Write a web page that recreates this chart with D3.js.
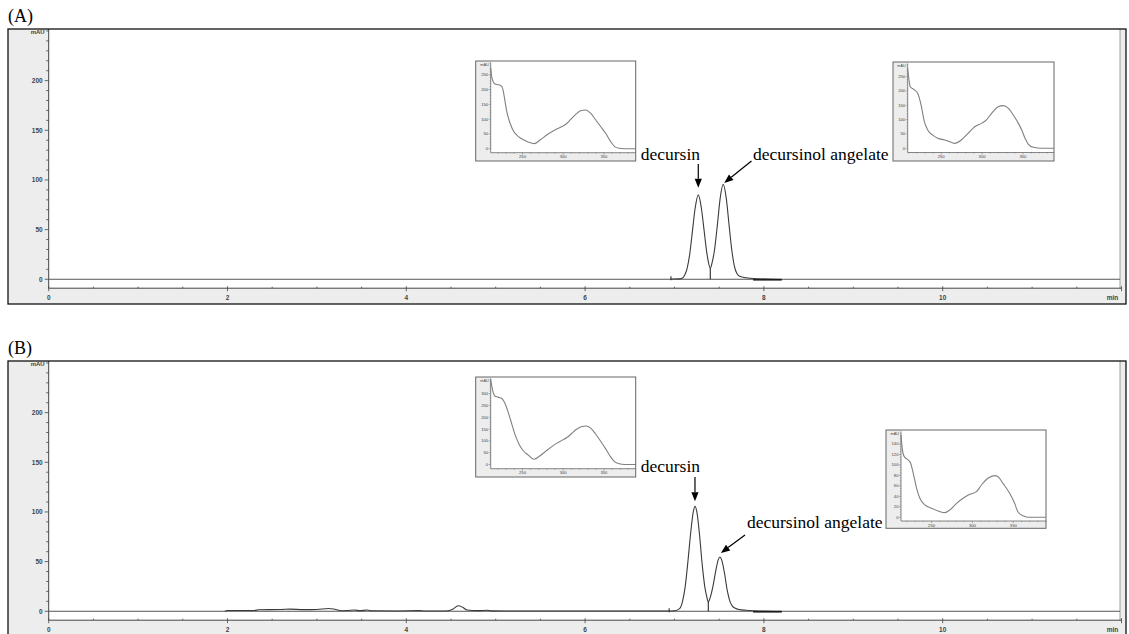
<!DOCTYPE html>
<html><head><meta charset="utf-8">
<script src="https://cdn.jsdelivr.net/npm/d3@7"></script>
<style>body{margin:0;background:#fff}svg{display:block}</style>
</head><body>
<svg id="c" width="1129" height="634"></svg>
<script>
// ---------------- data ----------------
const panelLabels = ["(A)", "(B)"];
const peakNames = ["decursin", "decursinol angelate"];
const timeTickLabels = [0, 2, 4, 6, 8, 10];
const signalTickLabels = [0, 50, 100, 150, 200];
const timeUnit = "min";
const signalUnit = "mAU";

// chromatogram traces [time (min), signal (mAU)]
const traceA = [[6.96,0.3],[7.00,0.3],[7.06,0.4],[7.09,1.2],[7.11,3.5],[7.14,10.5],[7.17,25],[7.20,48],[7.23,71],[7.266,85],[7.30,72],[7.33,50],[7.36,27.5],[7.38,17],[7.40,11],[7.42,16.5],[7.45,31],[7.48,55],[7.51,81],[7.545,95.5],[7.58,81],[7.61,55],[7.64,30],[7.67,13],[7.70,5.5],[7.73,3],[7.78,1.8],[7.85,1],[7.95,0.5],[8.05,0.2],[8.20,0]];
const traceB = [[1.97,0],[2.0,0.8],[2.3,0.8],[2.35,1.5],[2.6,1.8],[2.7,2.2],[2.85,1.6],[3.0,1.8],[3.13,2.8],[3.2,2],[3.28,0.5],[3.35,0.8],[3.42,1.2],[3.48,0.6],[3.56,1.2],[3.62,0.5],[3.9,0.3],[4.15,0.6],[4.2,0.3],[4.45,0.3],[4.52,2],[4.58,5.5],[4.63,4],[4.68,1.2],[4.8,0.6],[4.9,1],[4.95,0.4],[5.1,0.3],[6.94,0.3],[7.00,0.5],[7.06,3],[7.09,10],[7.12,25],[7.15,50],[7.18,78],[7.21,100],[7.229,105.7],[7.25,100],[7.28,77],[7.31,47],[7.34,24],[7.36,15],[7.378,9.5],[7.40,14],[7.43,25],[7.46,40],[7.49,52],[7.508,54.7],[7.53,51],[7.56,38],[7.59,21],[7.62,10],[7.65,5],[7.68,3],[7.72,1.8],[7.80,1],[7.90,0.5],[8.00,0.2],[8.20,0]];
const peaksA = [[7.266, 85], [7.545, 95.5]];
const peaksB = [[7.229, 105.7], [7.508, 54.7]];
const valleyA = [7.40, 11];
const valleyB = [7.378, 9.5];

// UV spectra insets [wavelength (nm), absorbance (mAU)]
const specA1 = [[211,273],[212.6,239],[216.3,219],[220.4,216],[224.6,211],[226.5,194],[228.6,160],[230.7,126],[234.8,86],[238.9,60],[245.1,41],[251.2,30],[257.4,22],[264.4,17],[271.9,30],[280.1,47],[290.4,64],[298.6,75],[304.8,86],[308.9,98],[315.1,115],[321.2,128],[327.4,131],[333.6,120],[339.8,98],[345.9,75],[352.1,52],[358.3,24],[363.2,7],[368.5,1.5],[374.7,0],[389,0]];
const specA2 = [[208.9,279],[212.2,215],[217.1,204],[221.2,192],[225.4,151],[229.4,93],[233.5,64],[239.7,46],[245.8,35],[254.1,29],[262.3,21],[266.4,17],[274.6,29],[282.8,52],[291,75],[299.3,87],[305.4,99],[311.6,122],[319.8,145],[325.9,149],[332,140],[338.2,116],[344.4,87],[348.5,64],[352.6,35],[356.7,14],[362.8,3.4],[373.2,0],[388,0]];
const specB1 = [[211,360],[213,320],[216,290],[220,285],[225,278],[229,255],[233,215],[237,170],[241,125],[246,85],[251,58],[257,40],[264,22],[272,38],[280,60],[290,85],[299,103],[305,115],[310,130],[316,148],[322,160],[328,163],[334,153],[340,128],[346,98],[352,67],[358,33],[363,12],[369,3],[375,0],[389,0]];
const specB2 = [[212.6,157],[214.1,131.6],[216.6,115.7],[221.5,109.3],[224.4,103],[227.6,83.9],[231.7,55.3],[235.7,36.2],[241.8,23.5],[250,17.1],[258.1,12],[266.2,8.8],[272.3,13.9],[280.5,26.6],[288.6,36.2],[296.7,43.8],[304.9,48.9],[311,61.6],[319,74.4],[327.2,79.4],[331.3,77.5],[337.3,64.8],[345.5,45.7],[351.6,26.6],[355.6,10.7],[361.7,3.1],[369.9,0],[389.4,0]];
const specTickLabelsX = [250, 300, 350];
const specTickLabelsYA = [0, 50, 100, 150, 200, 250];
const specTickLabelsYB1 = [0, 50, 100, 150, 200, 250, 300];
const specTickLabelsYB2 = [0, 20, 40, 60, 80, 100, 120, 140];

// ---------------- drawing ----------------
const svg = d3.select("#c");
const sans = "'Liberation Sans', Arial, sans-serif";
const serif = "'Liberation Serif', 'Times New Roman', serif";
const GRAY = "#ededed";

function arrow(g, x1, y1, x2, y2) {
  const ang = Math.atan2(y2 - y1, x2 - x1);
  const L = 9, W = 3.6;
  const bx = x2 - L * Math.cos(ang), by = y2 - L * Math.sin(ang);
  g.append("line").attr("x1", x1).attr("y1", y1).attr("x2", bx).attr("y2", by)
    .attr("stroke", "#000").attr("stroke-width", 1.2);
  const px = -Math.sin(ang) * W, py = Math.cos(ang) * W;
  g.append("path").attr("d", `M${x2},${y2}L${bx + px},${by + py}L${bx - px},${by - py}Z`).attr("fill", "#000");
}

function drawInset(g, cfg, data, yTicks, minorStep, xMinor) {
  const { bx, by, bw, bh, axX, axY, yLo, yHi, xLo, xHi } = cfg;
  const top = by + 1.5;
  g.append("rect").attr("x", bx).attr("y", by).attr("width", bw).attr("height", bh).attr("fill", GRAY);
  g.append("rect").attr("x", axX).attr("y", by).attr("width", bx + bw - axX).attr("height", axY - by).attr("fill", "#fff");
  const xs = d3.scaleLinear().domain([xLo, xHi]).range([axX, bx + bw]);
  const ys = d3.scaleLinear().domain([yLo, yHi]).range([axY, top]);
  g.append("line").attr("x1", axX).attr("x2", axX).attr("y1", top).attr("y2", axY).attr("stroke", "#555").attr("stroke-width", 0.7);
  g.append("line").attr("x1", axX).attr("x2", bx + bw).attr("y1", axY).attr("y2", axY).attr("stroke", "#555").attr("stroke-width", 0.7);
  const ymax = ys.invert(top);
  for (let v = 0; v <= ymax; v += minorStep) {
    const major = yTicks.includes(v);
    g.append("line").attr("x1", axX - (major ? 2 : 1)).attr("x2", axX).attr("y1", ys(v)).attr("y2", ys(v))
      .attr("stroke", "#666").attr("stroke-width", 0.5);
  }
  yTicks.forEach(v => {
    g.append("text").attr("x", axX - 2.5).attr("y", ys(v) + 1.5).attr("text-anchor", "end")
      .attr("font-family", sans).attr("font-size", 4.2).attr("fill", "#444").text(v);
  });
  g.append("text").attr("x", axX - 2).attr("y", top + 3).attr("text-anchor", "end")
    .attr("font-family", sans).attr("font-size", 3.8).attr("fill", "#444").text(signalUnit);
  for (let w = Math.ceil(xLo / xMinor) * xMinor; w <= xHi; w += xMinor) {
    const major = specTickLabelsX.includes(w);
    g.append("line").attr("x1", xs(w)).attr("x2", xs(w)).attr("y1", axY).attr("y2", axY + (major ? 2 : 1))
      .attr("stroke", "#666").attr("stroke-width", 0.5);
  }
  specTickLabelsX.forEach(w => {
    g.append("text").attr("x", xs(w)).attr("y", axY + 5.5).attr("text-anchor", "middle")
      .attr("font-family", sans).attr("font-size", 4.2).attr("fill", "#444").text(w);
  });
  g.append("path").datum(data)
    .attr("d", d3.line().x(d => xs(d[0])).y(d => ys(d[1])).curve(d3.curveMonotoneX))
    .attr("fill", "none").attr("stroke", "#808080").attr("stroke-width", 1.1);
  g.append("rect").attr("x", bx).attr("y", by).attr("width", bw).attr("height", bh)
    .attr("fill", "none").attr("stroke", "#666").attr("stroke-width", 1);
}

function drawPanel(off, label, trace, peaks, valley, notes, insets) {
  const g = svg.append("g");
  const frameX = 8, frameY = 29 + off, frameW = 1118, frameH = 275;
  const axisY = 288.2 + off, plotTop = 29 + off;
  const x = d3.scaleLinear().domain([0, 12]).range([48.7, 1121.5]);
  const y = d3.scaleLinear().domain([-9, 252]).range([axisY, plotTop]);

  g.append("text").attr("x", 8).attr("y", 22 + off).attr("font-family", serif).attr("font-size", 18).attr("fill", "#000").text(label);

  g.append("rect").attr("x", frameX).attr("y", frameY).attr("width", frameW).attr("height", frameH).attr("fill", GRAY);
  g.append("rect").attr("x", x(0)).attr("y", plotTop).attr("width", 1120 - x(0)).attr("height", axisY - plotTop).attr("fill", "#fff");
  g.append("line").attr("x1", 1120).attr("x2", 1120).attr("y1", plotTop).attr("y2", axisY).attr("stroke", "#888").attr("stroke-width", 0.8);

  // y axis
  g.append("line").attr("x1", x(0)).attr("x2", x(0)).attr("y1", plotTop).attr("y2", axisY).attr("stroke", "#444").attr("stroke-width", 1);
  for (let v = 0; v <= 250; v += 10) {
    const major = signalTickLabels.includes(v);
    g.append("line").attr("x1", x(0) - (major ? 4 : 2.5)).attr("x2", x(0)).attr("y1", y(v)).attr("y2", y(v))
      .attr("stroke", "#444").attr("stroke-width", 0.8);
  }
  signalTickLabels.forEach(v => {
    g.append("text").attr("x", x(0) - 6).attr("y", y(v) + 2.4).attr("text-anchor", "end")
      .attr("font-family", sans).attr("font-size", 6.5).attr("font-weight", "bold").attr("fill", "#444").text(v);
  });
  g.append("text").attr("x", x(0) - 4).attr("y", plotTop + 4.5).attr("text-anchor", "end")
    .attr("font-family", sans).attr("font-size", 6).attr("font-weight", "bold").attr("fill", "#444").text(signalUnit);

  // x axis
  g.append("line").attr("x1", x(0)).attr("x2", x(12)).attr("y1", axisY).attr("y2", axisY).attr("stroke", "#444").attr("stroke-width", 1);
  for (let t = 0; t <= 12.001; t += 0.5) {
    const major = Math.abs(t - Math.round(t / 2) * 2) < 1e-6;
    g.append("line").attr("x1", x(t)).attr("x2", x(t)).attr("y1", axisY - (major ? 2 : 1.5)).attr("y2", axisY + (major ? 3 : 0))
      .attr("stroke", "#444").attr("stroke-width", 0.8);
  }
  timeTickLabels.forEach(t => {
    g.append("text").attr("x", x(t)).attr("y", axisY + 11.5).attr("text-anchor", "middle")
      .attr("font-family", sans).attr("font-size", 6.5).attr("font-weight", "bold").attr("fill", "#444").text(t);
  });
  g.append("text").attr("x", x(11.9)).attr("y", axisY + 11.5).attr("text-anchor", "middle")
    .attr("font-family", sans).attr("font-size", 6.5).attr("font-weight", "bold").attr("fill", "#444").text(timeUnit);

  // zero line
  g.append("line").attr("x1", x(0)).attr("x2", 1120).attr("y1", y(0)).attr("y2", y(0)).attr("stroke", "#555").attr("stroke-width", 1);

  // trace
  g.append("path").datum(trace)
    .attr("d", d3.line().x(d => x(d[0])).y(d => y(d[1])).curve(d3.curveMonotoneX))
    .attr("fill", "none").attr("stroke", "#3a3a3a").attr("stroke-width", 1.1);
  // integration marks
  const t0 = trace.find(d => d[0] > 6)[0];
  g.append("line").attr("x1", x(t0)).attr("x2", x(t0)).attr("y1", y(0) + 1).attr("y2", y(0) - 3).attr("stroke", "#222").attr("stroke-width", 1);
  g.append("line").attr("x1", x(valley[0])).attr("x2", x(valley[0])).attr("y1", y(0)).attr("y2", y(valley[1])).attr("stroke", "#111").attr("stroke-width", 1);
  g.append("line").attr("x1", x(7.88)).attr("x2", x(8.2)).attr("y1", y(0) + 0.6).attr("y2", y(0) + 0.6).attr("stroke", "#111").attr("stroke-width", 1.4);

  // insets
  insets.forEach(ins => drawInset(g, ins.cfg, ins.data, ins.yTicks, ins.minor, 10));

  // annotations
  notes.forEach(n => {
    const p = peaks[n.peak];
    const px = x(p[0]), py = y(p[1]);
    g.append("text").attr("x", n.tx).attr("y", n.ty + off).attr("text-anchor", n.anchor)
      .attr("font-family", serif).attr("font-size", 17.5).attr("fill", "#000").text(peakNames[n.peak]);
    const sx = n.sx === null ? px : n.sx;
    arrow(g, sx, n.sy + off, px + n.dx, py + n.dy);
  });

  // frame border
  g.append("rect").attr("x", frameX).attr("y", frameY).attr("width", frameW).attr("height", frameH)
    .attr("fill", "none").attr("stroke", "#111").attr("stroke-width", 1.3);
}

drawPanel(0, panelLabels[0], traceA, peaksA, valleyA,
  [{ peak: 0, tx: 700, ty: 160, anchor: "end", sx: null, sy: 164, dx: 0, dy: -7 },
   { peak: 1, tx: 753, ty: 160, anchor: "start", sx: 751.5, sy: 161, dx: 1, dy: -1.5 }],
  [{ cfg: { bx: 475.7, by: 61, bw: 160, bh: 100, axX: 490.7, axY: 152.7, yLo: -13.6, yHi: 291.5, xLo: 211, xHi: 389 }, data: specA1, yTicks: specTickLabelsYA, minor: 10 },
   { cfg: { bx: 893, by: 62, bw: 161, bh: 99, axX: 907.7, axY: 152.5, yLo: -14.7, yHi: 296, xLo: 209, xHi: 388 }, data: specA2, yTicks: specTickLabelsYA, minor: 10 }]);

drawPanel(332, panelLabels[1], traceB, peaksB, valleyB,
  [{ peak: 0, tx: 700, ty: 140, anchor: "end", sx: null, sy: 145, dx: 0, dy: -5 },
   { peak: 1, tx: 747, ty: 196, anchor: "start", sx: 745, sy: 203, dx: 1, dy: -4 }],
  [{ cfg: { bx: 475.7, by: 377, bw: 160, bh: 100, axX: 490.7, axY: 468.7, yLo: -17.9, yHi: 363.8, xLo: 211, xHi: 389 }, data: specB1, yTicks: specTickLabelsYB1, minor: 10 },
   { cfg: { bx: 886, by: 430, bw: 160, bh: 98.3, axX: 901, axY: 521, yLo: -7.1, yHi: 163.7, xLo: 212.6, xHi: 390 }, data: specB2, yTicks: specTickLabelsYB2, minor: 5 }]);
</script>
</body></html>
